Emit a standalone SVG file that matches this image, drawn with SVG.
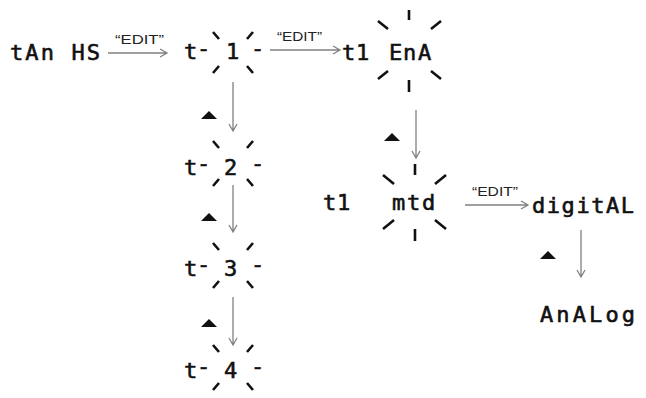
<svg xmlns="http://www.w3.org/2000/svg" width="646" height="398" viewBox="0 0 646 398">
<style>
.d{font-family:"DejaVu Sans Mono","Liberation Mono",monospace;font-size:22px;fill:#111;stroke:#111;stroke-width:0.6}
.e{font-family:"Liberation Sans",Arial,sans-serif;font-size:13px;fill:#222}
.ray{stroke:#111;stroke-width:2.6;fill:none}
.ar{stroke:#808080;stroke-width:1.3;fill:none}
.tri{fill:#111}
</style>
<rect width="646" height="398" fill="#fff"/>
<g id="connectors">
<g class="ar">
<path d="M108 53H167M160 49L167 53L160 57"/>
<path d="M270 50H340M333 46L340 50L333 54"/>
<path d="M465 205H528M521 201L528 205L521 209"/>
<path d="M233 82V131M229 124L233 131L237 124"/>
<path d="M233 185V232M229 225L233 232L237 225"/>
<path d="M233 297V345M229 338L233 345L237 338"/>
<path d="M416 110V158M412 151L416 158L420 151"/>
<path d="M581 230V277M577 270L581 277L585 270"/>
</g>
<text class="e" x="115" y="44" textLength="49" lengthAdjust="spacingAndGlyphs">“EDIT”</text>
<text class="e" x="277" y="41" textLength="45" lengthAdjust="spacingAndGlyphs">“EDIT”</text>
<text class="e" x="472" y="196" textLength="46" lengthAdjust="spacingAndGlyphs">“EDIT”</text>
<g class="tri">
<path d="M201 119L209 111L217 119Z"/>
<path d="M201 221L209 213L217 221Z"/>
<path d="M201 327L209 319L217 327Z"/>
<path d="M384 141L392 133L400 141Z"/>
<path d="M540 259L548 251L556 259Z"/>
</g>
</g>
<g id="tanhs">
<text class="d" x="10" y="60" textLength="90" lengthAdjust="spacing">tAn HS</text>
</g>
<g id="t1">
<text class="d" x="184 197 226 251" y="59" dy="0 -3 3 -3">t-1-</text>
<path class="ray" d="M213 32L219 39M253 32L247 39M213 73L219 66M253 73L247 66"/>
</g>
<g id="t1ena">
<text class="d" x="342 356 374 389 403 418" y="60">t1 EnA</text>
<path class="ray" d="M409 10V20M409 80V92M378 21L388 29M441 21L431 29M378 79L388 71M441 79L431 71"/>
</g>
<g id="t2">
<text class="d" x="184 197 224 251" y="175" dy="0 -4 4 -4">t-2-</text>
<path class="ray" d="M213 141L219 148M253 141L247 148M213 186L219 179M253 186L247 179"/>
</g>
<g id="t3">
<text class="d" x="184 197 224 251" y="276" dy="0 -4 4 -4">t-3-</text>
<path class="ray" d="M213 243L219 250M253 243L247 250M213 288L219 281M253 288L247 281"/>
</g>
<g id="t4">
<text class="d" x="184 197 224 251" y="378" dy="0 -4 4 -4">t-4-</text>
<path class="ray" d="M213 345L219 352M253 345L247 352M213 390L219 383M253 390L247 383"/>
</g>
<g id="t1mtd">
<text class="d" x="323 337 352 392 407 422" y="210">t1 mtd</text>
<path class="ray" d="M415 164V175M415 229V241M383 175L394 184M446 175L435 184M383 229L394 220M446 229L435 220"/>
</g>
<g id="digital">
<text class="d" x="532" y="213" textLength="102" lengthAdjust="spacing">digitAL</text>
</g>
<g id="analog">
<text class="d" x="540" y="322" textLength="95" lengthAdjust="spacing">AnALog</text>
</g>
</svg>
